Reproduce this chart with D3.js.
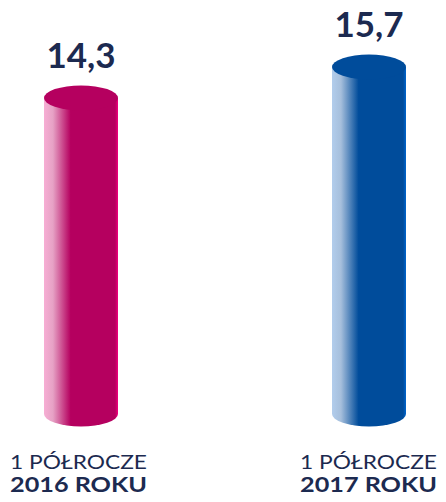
<!DOCTYPE html>
<html>
<head>
<meta charset="utf-8">
<title>Cylinders</title>
<style>
  body { margin: 0; background: #fff; }
  text { font-family: Lato, sans-serif; fill: #1c2a50; }
</style>
</head>
<body>
<script src="https://cdn.jsdelivr.net/npm/d3@7"></script>
<script>
var categories = ["2016", "2017"];
var values = [14.3, 15.7];
var valueLabels = ["14,3", "15,7"];
var line1 = ["1 PÓŁROCZE", "1 PÓŁROCZE"];
var line2 = ["2016 ROKU", "2017 ROKU"];
var colors = ["#b5005f", "#004c9b"];
var lightColors = ["#e6a2c5", "#a6bfdc"];

var width = 446, height = 502;
var svg = d3.select("body").append("svg")
    .attr("width", width)
    .attr("height", height);

var x = d3.scaleBand()
    .domain(categories)
    .range([7, 444]);
var cw = 74;   // cylinder width
var ry = 12.5; // ellipse radius
var base = 414;
var y = d3.scaleLinear()
    .domain([0, d3.max(values)])
    .range([base, 67]);

function cx(i) {
    return i === 0 ? x(categories[0]) + 74 : x(categories[1]) + x.bandwidth() - 75;
}

var defs = svg.append("defs");
categories.forEach(function (c, i) {
    var g = defs.append("linearGradient")
        .attr("id", "grad" + i)
        .attr("x1", "0%").attr("x2", "100%")
        .attr("y1", "0%").attr("y2", "0%");
    g.append("stop").attr("offset", "0%").attr("stop-color", d3.color(lightColors[i]).brighter(0.2));
    g.append("stop").attr("offset", "12%").attr("stop-color", lightColors[i]);
    g.append("stop").attr("offset", "36%").attr("stop-color", colors[i]);
    g.append("stop").attr("offset", "96%").attr("stop-color", colors[i]);
    g.append("stop").attr("offset", "100%").attr("stop-color", d3.color(colors[i]).brighter(0.8));
});

var bars = svg.selectAll("g.bar")
    .data(values)
    .enter()
    .append("g")
    .attr("class", "bar");

bars.append("path")
    .attr("fill", function (d, i) { return "url(#grad" + i + ")"; })
    .attr("d", function (d, i) {
        var c = cx(i), l = c - cw / 2, r = c + cw / 2, t = y(d);
        return "M" + l + "," + t + " L" + l + "," + base +
            " A" + (cw / 2) + "," + ry + " 0 0 0 " + r + "," + base +
            " L" + r + "," + t + " Z";
    });

bars.append("ellipse")
    .attr("cx", function (d, i) { return cx(i); })
    .attr("cy", function (d) { return y(d); })
    .attr("rx", cw / 2)
    .attr("ry", ry)
    .attr("fill", function (d, i) { return colors[i]; });

bars.append("text")
    .attr("x", function (d, i) { return cx(i); })
    .attr("y", function (d) { return y(d) - 30; })
    .attr("text-anchor", "middle")
    .attr("font-size", 35)
    .attr("font-weight", "bold")
    .text(function (d, i) { return valueLabels[i]; });

var labelX = [10, 300];
bars.append("text")
    .attr("x", function (d, i) { return labelX[i]; })
    .attr("y", 469)
    .attr("font-size", 19.5)
    .attr("textLength", 137)
    .attr("lengthAdjust", "spacingAndGlyphs")
    .text(function (d, i) { return line1[i]; });

bars.append("text")
    .attr("x", function (d, i) { return labelX[i]; })
    .attr("y", 492)
    .attr("font-size", 20)
    .attr("font-weight", "bold")
    .attr("textLength", 137)
    .attr("lengthAdjust", "spacingAndGlyphs")
    .text(function (d, i) { return line2[i]; });
</script>
</body>
</html>
